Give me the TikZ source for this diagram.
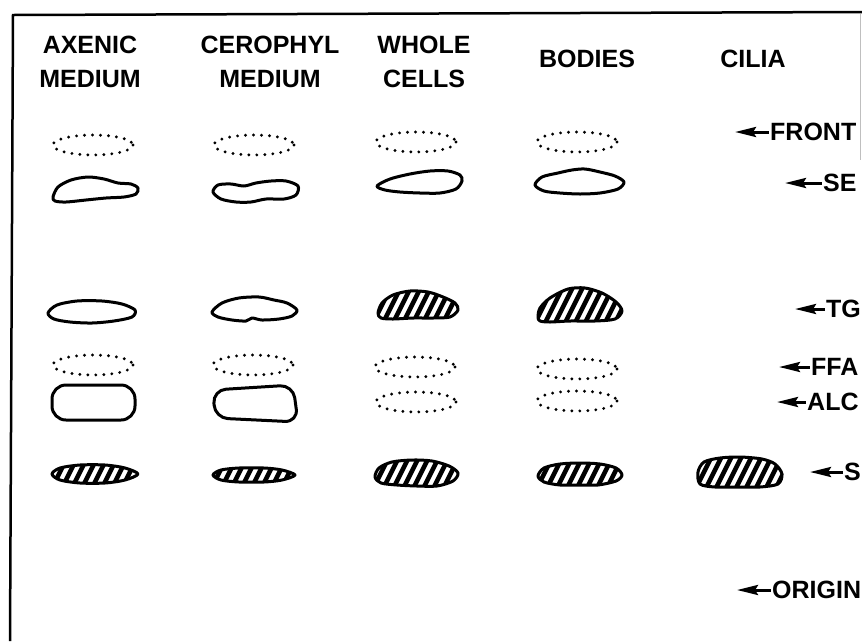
\documentclass[tikz,border=0pt]{standalone}
\usepackage{fontspec}
\setmainfont{Liberation Sans}
\usetikzlibrary{arrows.meta}

\tikzset{
  head/.style={font=\fontsize{25}{34}\selectfont\bfseries, align=center, inner sep=0pt, anchor=north},
  spotlabel/.style={font=\fontsize{25}{30}\selectfont\bfseries, anchor=west, inner sep=0pt},
  spotarrow/.style={line width=3pt, {Stealth[length=21pt,width=10pt,inset=3pt]}-, shorten >=1pt},
  dotline/.style={line width=3.2pt, dash pattern=on 0pt off 8pt, line cap=round},
  outline/.style={line width=3pt, line join=round},
}
% plain and hatched spots, given by centre and outline points
\newcommand{\spotshape}[2]{\draw[outline,shift={#1}] plot[smooth cycle] coordinates {#2};}
\newcommand{\hatchshape}[2]{%
  \begin{scope}[shift={#1}]
    \begin{scope}
      \clip plot[smooth cycle] coordinates {#2};
      \foreach \s in {-66,-56,...,66} \draw[line width=4.5pt] (\s-12,24) -- (\s+12,-24);
    \end{scope}
    \draw[outline] plot[smooth cycle] coordinates {#2};
  \end{scope}}

\begin{document}
\begin{tikzpicture}[x=1pt,y=-1pt]
\useasboundingbox (0,0) rectangle (862,641);
\draw[line width=2.5pt] (10,641) -- (13,15) -- (862,12);
\draw[gray!50, line width=1pt] (860,14) -- (860,160);

\node[head] (hd-axenic) at (90,36) {AXENIC\\MEDIUM};
\node[head] (hd-cerophyl) at (270,36) {CEROPHYL\\MEDIUM};
\node[head] (hd-whole) at (424,36) {WHOLE\\CELLS};
\node[head] (hd-bodies) at (587,50) {BODIES};
\node[head] (hd-cilia) at (753,50) {CILIA};

\foreach \txt/\lx/\ly/\tx in {FRONT/770/132/735, SE/823/183/785, TG/826/309/795,
    FFA/811/367/779, ALC/807/402/777, S/844/472/810, ORIGIN/772/590/737} {
  \node[spotlabel] (lbl-\txt) at (\lx,\ly) {\txt};
  \coordinate (tip-\txt) at (\tx,\ly);
  \draw[spotarrow] (tip-\txt) -- (lbl-\txt.west);
}

% dotted spots
\foreach \cx/\cy in {93/145, 254/145, 416/142, 577/142, 93/365, 253/365,
    415/367, 577/369, 416/402, 577/401}
  \draw[dotline] (\cx,\cy) ellipse [x radius=40, y radius=10];

% SE
\spotshape{(96,190)}{(-43,7) (-38,-3) (-25,-10) (-8,-13) (8,-11) (22,-7) (35,-6) (42,-2) (40,4) (28,7) (10,8) (-10,10) (-30,12) (-41,11)}
\spotshape{(256,192)}{(-43,0) (-38,-7) (-25,-8) (-12,-6) (0,-9) (15,-11) (30,-11) (42,-6) (40,3) (28,7) (10,7) (-5,10) (-20,10) (-35,7)}
\spotshape{(420,183)}{(-43,3) (-30,-4) (-10,-9) (10,-12) (28,-12) (40,-8) (42,-2) (36,6) (20,10) (0,10) (-20,9) (-35,7)}
\spotshape{(580,183)}{(-45,2) (-38,-6) (-22,-10) (-8,-13) (5,-14) (20,-11) (35,-7) (44,-1) (38,6) (20,10) (0,11) (-20,10) (-36,8)}

% TG
\spotshape{(92,312)}{(-44,1) (-35,-7) (-15,-11) (10,-11) (30,-8) (43,-2) (40,5) (22,9) (0,11) (-22,10) (-38,7)}
\spotshape{(254,310)}{(-42,2) (-32,-7) (-15,-12) (5,-13) (20,-10) (33,-7) (43,0) (38,6) (25,9) (8,10) (-2,8) (-8,11) (-22,10) (-36,7)}
\hatchshape{(418,305)}{(-40,8) (-36,-2) (-25,-10) (-8,-14) (10,-13) (25,-8) (37,-2) (40,5) (32,12) (15,13) (-5,13) (-25,14) (-37,13)}
\hatchshape{(580,305)}{(-42,12) (-40,3) (-30,-7) (-12,-16) (5,-17) (22,-12) (36,-3) (42,6) (35,14) (15,16) (-10,16) (-30,17) (-40,16)}

% ALC
\draw[outline, rounded corners=14pt] (52,385) rectangle (135,420);
\draw[outline, rounded corners=13pt] (213,390) -- (293,385) -- (298,422) -- (215,418) -- cycle;

% S
\hatchshape{(95,474)}{(-43,0) (-35,-6) (-15,-9) (10,-9) (30,-6) (43,0) (30,6) (10,9) (-15,9) (-35,6)}
\hatchshape{(254,475)}{(-41,0) (-33,-5) (-15,-7) (10,-7) (28,-5) (41,0) (28,5) (10,7) (-15,7) (-33,5)}
\hatchshape{(417,473)}{(-42,4) (-38,-5) (-25,-11) (-5,-13) (15,-12) (32,-7) (41,0) (36,8) (20,13) (0,13) (-20,12) (-36,10)}
\hatchshape{(580,474)}{(-42,2) (-36,-6) (-20,-10) (0,-11) (20,-10) (36,-6) (42,1) (36,7) (18,11) (0,11) (-20,11) (-36,8)}
\hatchshape{(740,472)}{(-40,12) (-42,0) (-36,-10) (-20,-14) (0,-15) (22,-13) (35,-8) (42,2) (38,12) (20,15) (0,15) (-25,15)}
\end{tikzpicture}
\end{document}
